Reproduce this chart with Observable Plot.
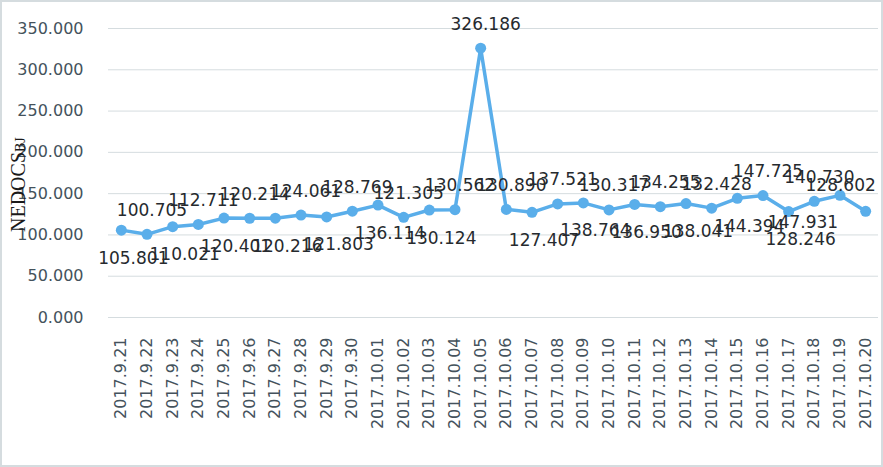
<!DOCTYPE html>
<html>
<head>
<meta charset="utf-8">
<script src="https://cdn.jsdelivr.net/npm/d3@7"></script>
<script src="https://cdn.jsdelivr.net/npm/@observablehq/plot@0.6"></script>
<style>
  html, body { margin: 0; padding: 0; background: #fff; }
  #chart svg { display: block; font-family: "DejaVu Sans", sans-serif; }
</style>
</head>
<body>
<div id="chart"></div>
<script>
const dates = ["2017.9.21","2017.9.22","2017.9.23","2017.9.24","2017.9.25","2017.9.26","2017.9.27","2017.9.28","2017.9.29","2017.9.30",
  "2017.10.01","2017.10.02","2017.10.03","2017.10.04","2017.10.05","2017.10.06","2017.10.07","2017.10.08","2017.10.09","2017.10.10",
  "2017.10.11","2017.10.12","2017.10.13","2017.10.14","2017.10.15","2017.10.16","2017.10.17","2017.10.18","2017.10.19","2017.10.20"];
const values = [105.801,100.705,110.021,112.711,120.401,120.214,120.216,124.061,121.803,128.769,
  136.114,121.305,130.124,130.562,326.186,130.890,127.407,137.521,138.764,130.317,
  136.950,134.255,138.041,132.428,144.394,147.725,128.246,140.730,147.931,128.602];
const yTicks = [0,50,100,150,200,250,300,350];
const yTitle = "NEDOCS";
const yTitleSub = "BJ";

const rows = dates.map((d, i) => ({date: d, value: values[i], i}));
const maxV = d3.max(values);
const n = rows.length;
const isAbove = r => r.i % 2 === 1 || r.value === maxV;
const nearEnd = r => r.i >= n - 2;
const above = rows.filter(r => isAbove(r) && !nearEnd(r));
const aboveEnd = rows.filter(r => isAbove(r) && nearEnd(r));
const below = rows.filter(r => !isAbove(r) && !nearEnd(r));
const belowEnd = rows.filter(r => !isAbove(r) && nearEnd(r));
const fmt = d3.format(".3f");
const lineColor = "#5aaeea";
const labelColor = "#262a2e";
const lbl = d => fmt(d.value);

const plot = Plot.plot({
  width: 883,
  height: 467,
  marginLeft: 108,
  marginRight: 5,
  marginTop: 28,
  marginBottom: 150,
  style: {fontFamily: "DejaVu Sans, sans-serif", background: "#fff"},
  x: {type: "point", domain: dates, padding: 0.5, round: false, label: null},
  y: {domain: [0, 350], label: null},
  marks: [
    Plot.gridY(yTicks, {stroke: "#d5dcdf", strokeOpacity: 1, strokeWidth: 1}),
    Plot.axisY({ticks: yTicks, tickFormat: ".3f", tickSize: 0, tickPadding: 25, fontSize: 16, fill: "#44525c", label: null}),
    Plot.axisX({tickRotate: -90, tickSize: 0, tickPadding: 20, fontSize: 16, fill: "#44525c", label: null}),
    Plot.line(rows, {x: "date", y: "value", stroke: lineColor, strokeWidth: 3.5}),
    Plot.dot(rows, {x: "date", y: "value", fill: lineColor, r: 5.5}),
    Plot.text(above, {x: "date", y: "value", text: lbl, dy: -24, dx: 5, fontSize: 17, fill: labelColor}),
    Plot.text(aboveEnd, {x: "date", y: "value", text: lbl, dy: -26, dx: -25, fontSize: 17, fill: labelColor}),
    Plot.text(below, {x: "date", y: "value", text: lbl, dy: 28, dx: 12, fontSize: 17, fill: labelColor}),
    Plot.text(belowEnd, {x: "date", y: "value", text: lbl, dy: 27, dx: -37, fontSize: 17, fill: labelColor})
  ]
});

const svg = d3.select(plot);
svg.append("rect")
  .attr("x", 1).attr("y", 1).attr("width", 881).attr("height", 465)
  .attr("fill", "none").attr("stroke", "#d5dcdf").attr("stroke-width", 2);
const t = svg.append("text")
  .attr("transform", "translate(25,232) rotate(-90)")
  .attr("text-anchor", "start")
  .attr("fill", "#1a1a1a")
  .style("font-family", "'Liberation Serif', serif");
t.append("tspan").attr("font-size", 20).text(yTitle);
t.append("tspan").attr("font-size", 14).text(yTitleSub);

document.getElementById("chart").appendChild(plot);
</script>
</body>
</html>
